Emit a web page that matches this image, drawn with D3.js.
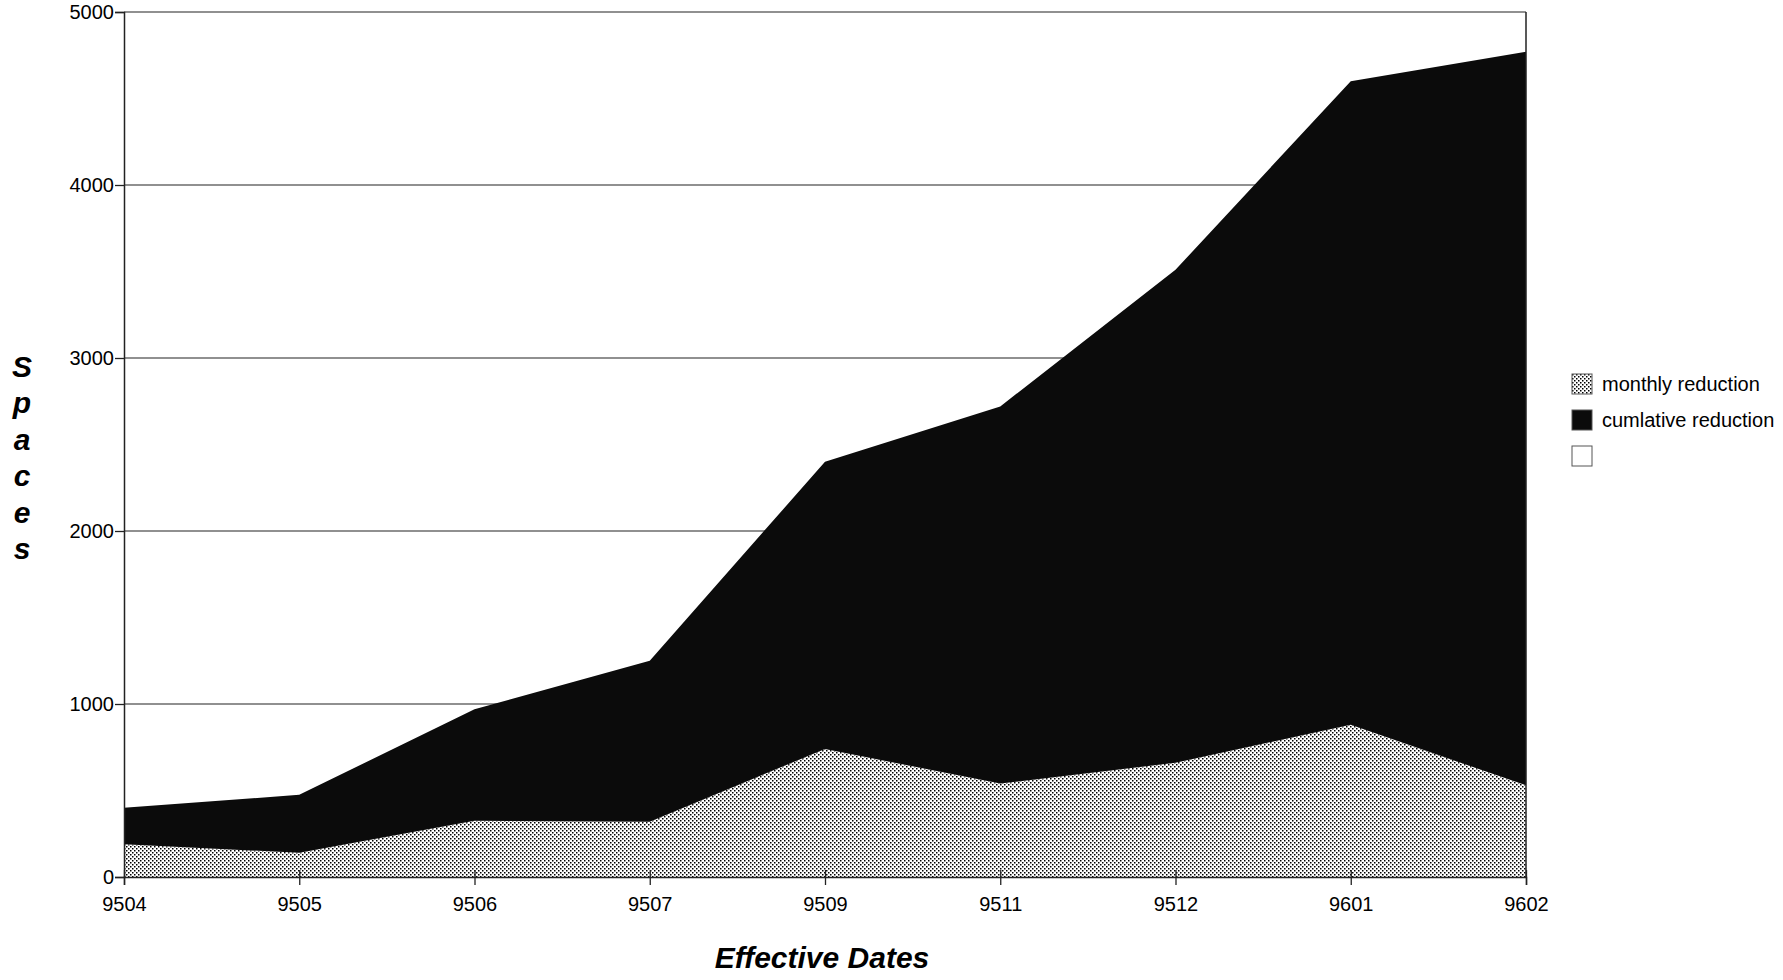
<!DOCTYPE html>
<html>
<head>
<meta charset="utf-8">
<script src="https://cdn.jsdelivr.net/npm/d3@7"></script>
<style>
  html, body { margin: 0; padding: 0; background: #fff; }
  svg { display: block; font-family: "Liberation Sans", Arial, sans-serif; }
</style>
</head>
<body>
<svg id="chart" width="1783" height="980"></svg>
<script>
// ---- data ----
const categories = ["9504", "9505", "9506", "9507", "9509", "9511", "9512", "9601", "9602"];
const monthlyReduction = [190, 140, 325, 320, 740, 540, 660, 880, 530];
const cumulativeReduction = [210, 335, 645, 930, 1660, 2180, 2850, 3720, 4240];
const blankSeries = [0, 0, 0, 0, 0, 0, 0, 0, 0];
const seriesNames = ["monthly reduction", "cumlative reduction", ""];
const yTicks = [0, 1000, 2000, 3000, 4000, 5000];

// ---- layout ----
const svg = d3.select("#chart");
const plotLeft = 124, plotRight = 1526, plotTop = 12, plotBottom = 877;

const x = d3.scalePoint().domain(categories).range([plotLeft, plotRight]);
const y = d3.scaleLinear().domain([0, 5000]).range([plotBottom, plotTop]);

// patterns
const defs = svg.append("defs");
const pat = defs.append("pattern")
  .attr("id", "dots").attr("patternUnits", "userSpaceOnUse")
  .attr("width", 4).attr("height", 4);
pat.append("rect").attr("width", 4).attr("height", 4).attr("fill", "#fff");
pat.append("rect").attr("x", 0).attr("y", 0).attr("width", 1.5).attr("height", 1.5).attr("fill", "#000");
pat.append("rect").attr("x", 2).attr("y", 2).attr("width", 1.5).attr("height", 1.5).attr("fill", "#000");

const fills = ["url(#dots)", "#0b0b0b", "#fff"];

// table for stacking
const table = categories.map((c, i) => ({
  cat: c,
  [seriesNames[0]]: monthlyReduction[i],
  [seriesNames[1]]: cumulativeReduction[i],
  blank: blankSeries[i]
}));
const keys = [seriesNames[0], seriesNames[1]];
const stacked = d3.stack().keys(keys)(table);

// gridlines
svg.append("g").selectAll("line")
  .data(yTicks.filter(d => d > 0))
  .join("line")
  .attr("x1", plotLeft).attr("x2", plotRight)
  .attr("y1", d => y(d)).attr("y2", d => y(d))
  .attr("stroke", "#222").attr("stroke-width", 1.2);

// areas
const area = d3.area()
  .x(d => x(d.data.cat))
  .y0(d => y(d[0]))
  .y1(d => y(d[1]));

svg.append("g").selectAll("path")
  .data(stacked)
  .join("path")
  .attr("d", area)
  .attr("fill", (d, i) => fills[i]);

// right border
svg.append("line")
  .attr("x1", plotRight).attr("x2", plotRight).attr("y1", plotTop).attr("y2", plotBottom)
  .attr("stroke", "#222").attr("stroke-width", 1.5);

// y axis
const yAxis = svg.append("g")
  .attr("transform", `translate(${plotLeft},0)`)
  .call(d3.axisLeft(y).tickValues(yTicks).tickSize(9).tickPadding(1).tickFormat(d3.format("d")));
yAxis.select(".domain").attr("stroke", "#222").attr("stroke-width", 1.5);
yAxis.selectAll(".tick line").attr("stroke", "#222").attr("stroke-width", 1.3);
yAxis.selectAll(".tick text").attr("font-size", 20).attr("fill", "#000")
  .attr("font-family", "'Liberation Sans', Arial, sans-serif");

// x axis
const xAxis = svg.append("g")
  .attr("transform", `translate(0,${plotBottom})`)
  .call(d3.axisBottom(x).tickSize(8).tickPadding(12));
xAxis.select(".domain").attr("stroke", "#222").attr("stroke-width", 1.5);
xAxis.selectAll(".tick line").attr("y1", -7).attr("y2", 8).attr("stroke", "#222").attr("stroke-width", 1.3);
xAxis.selectAll(".tick text").attr("font-size", 20).attr("fill", "#000")
  .attr("font-family", "'Liberation Sans', Arial, sans-serif");

// axis titles
svg.append("text")
  .attr("x", 822).attr("y", 968)
  .attr("text-anchor", "middle")
  .attr("font-size", 30).attr("font-weight", "bold").attr("font-style", "italic")
  .text("Effective Dates");

const yTitle = "Spaces".split("");
svg.append("g").selectAll("text")
  .data(yTitle)
  .join("text")
  .attr("x", 22)
  .attr("y", (d, i) => 377 + i * 36.4)
  .attr("text-anchor", "middle")
  .attr("font-size", 30).attr("font-weight", "bold").attr("font-style", "italic")
  .text(d => d);

// legend
const legend = svg.append("g").attr("transform", "translate(1572,374)");
const items = legend.selectAll("g").data(seriesNames).join("g")
  .attr("transform", (d, i) => `translate(0,${i * 36})`);
items.append("rect")
  .attr("width", 20).attr("height", 20)
  .attr("fill", (d, i) => fills[i])
  .attr("stroke", "#555").attr("stroke-width", 1);
items.append("text")
  .attr("x", 30).attr("y", 17)
  .attr("font-size", 20).attr("fill", "#000")
  .text(d => d);
</script>
</body>
</html>
